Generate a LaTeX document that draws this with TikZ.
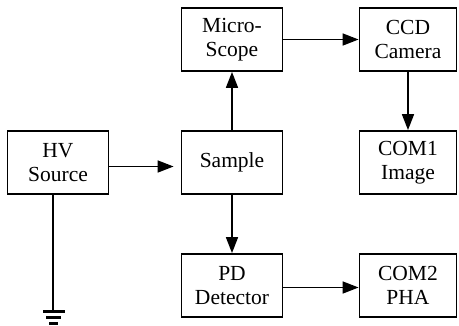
\documentclass[tikz,border=0pt]{standalone}
\usepackage{fontspec}
\setmainfont{Liberation Serif}
\usepackage{tikz}
\usetikzlibrary{positioning, arrows.meta}
\tikzstyle{block} = [rectangle, minimum width=101pt, minimum height=63pt, text centered, align=center, draw=black, line width=1.8pt, font=\fontsize{21.5}{24}\selectfont]
\tikzstyle{outbox} = [block, minimum width=97pt]
\tikzstyle{arrow} = [line width=1.7pt, -{Triangle[length=16pt,width=12pt]}]
\tikzstyle{gndbar} = [line width=3pt]

\begin{document}
\begin{tikzpicture}[node distance=123pt, x=1pt, y=1pt]
        \useasboundingbox (0,0) rectangle (459,-325);
        \node (hv) [block] at (58,-162.5) {HV\\Source};
        \node (sample) [block, right of=hv, xshift=51pt] {Sample};
        \node (micro) [block, above of=sample, yshift=0pt] {Micro-\\Scope};
        \node (pd) [block, below of=sample] {PD\\Detector};
        \node (ccd) [outbox, right of=micro, xshift=53pt] {CCD\\Camera};
        \node (com1) [outbox, right of=sample, xshift=53pt] {COM1\\Image};
        \node (com2) [outbox, right of=pd, xshift=53pt] {COM2\\PHA};
        \coordinate (gnd) at (53,-310);

        \draw [arrow, shorten >=7pt] ([yshift=-4pt]hv.east) -- ([yshift=-4pt]sample.west);
        \draw [arrow] (sample) -- (micro);
        \draw [arrow] (micro) -- (ccd);
        \draw [arrow] (ccd) -- (com1);
        \draw [arrow] (sample) -- (pd);
        \draw [arrow] ([yshift=-2pt]pd.east) -- ([yshift=-2pt]com2.west);

        % ground
        \draw [line width=1.8pt] (hv.south -| gnd) -- (gnd);
        \draw [gndbar] (43,-311) -- (65,-311);
        \draw [gndbar] (46,-317) -- (61,-317);
        \draw [gndbar] (49,-323) -- (58,-323);
    \end{tikzpicture}
\end{document}
